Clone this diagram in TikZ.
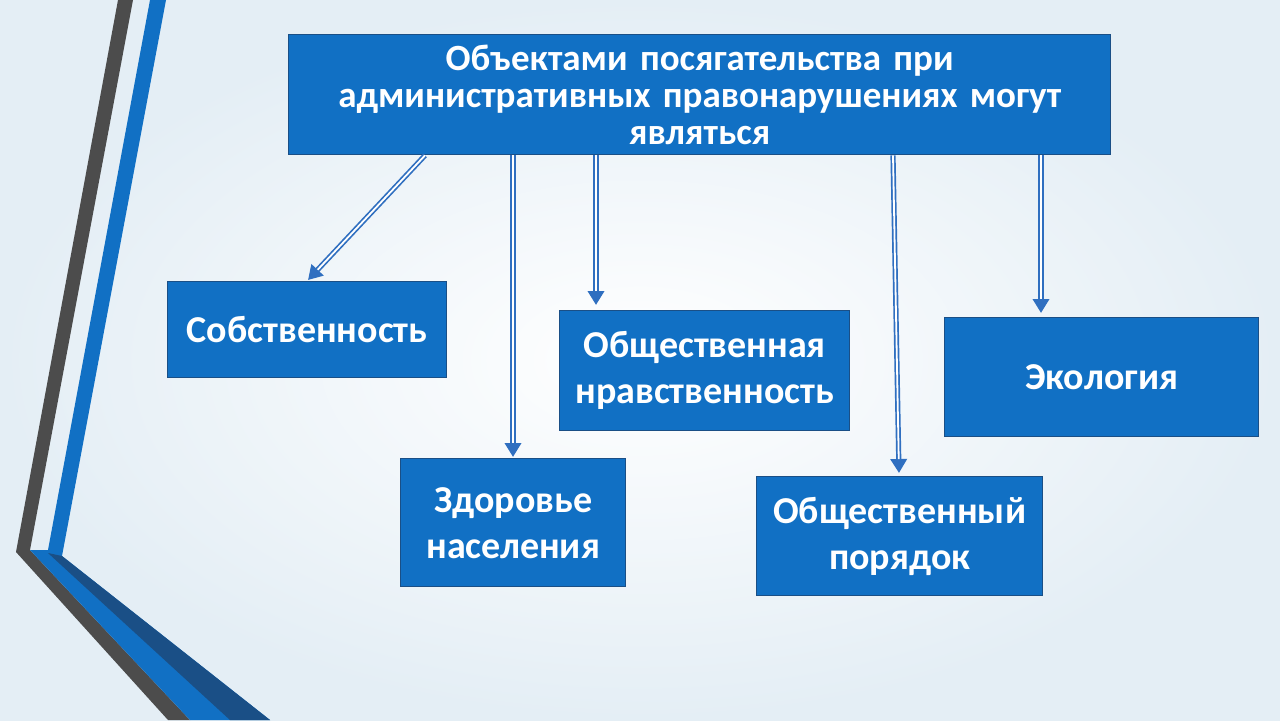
\documentclass[tikz,border=0pt]{standalone}
\usepackage{fontspec}
\setmainfont{Carlito}
\usetikzlibrary{arrows.meta,calc}
\definecolor{boxblue}{HTML}{1170C4}
\definecolor{boxedge}{HTML}{1A4F86}
\definecolor{arrblue}{HTML}{2F6FC0}
\definecolor{bgtop}{HTML}{E4EEF5}
\tikzset{
 box/.style={draw=boxedge,line width=0.7pt,fill=boxblue,text=white,align=center,
   font=\bfseries\fontsize{19}{23}\selectfont,inner sep=0pt,anchor=north west},
 arrouter/.style={draw=arrblue,line width=2.6pt,-{Triangle[length=7pt,width=8pt]}},
 arrinner/.style={draw=white,line width=0.9pt,shorten >=7pt}
}
\begin{document}
\begin{tikzpicture}[x=0.5pt,y=-0.5pt]
\useasboundingbox (0,0) rectangle (1280,720);
\shade[inner color=white,outer color=bgtop] (0,0) rectangle (1280,720);
% stripes
\fill[black!70] (118,0) -- (133,0) -- (30,550) -- (190,720) -- (168,720) -- (16,552) -- cycle;
\fill[boxblue] (150,0) -- (166,0) -- (62,556) -- (270,720) -- (190,720) -- (30,550) -- (48,550) -- cycle;
\fill[boxedge] (48,553) -- (62,556) -- (270,720) -- (230,720) -- cycle;
% boxes
\node[box,minimum width=411pt,minimum height=60pt,text width=405pt,
  font=\bfseries\fontsize{18.5}{18.5}\selectfont] (top) at (288,34)
  {Объектами посягательства при\\административных правонарушениях могут\\являться};
\node[box,minimum width=139.5pt,minimum height=48pt] (sob) at (167,281) {Собственность};
\node[box,minimum width=145pt,minimum height=60pt] (nrav) at (559,310) {Общественная\\нравственность};
\node[box,minimum width=157pt,minimum height=59.5pt] (eco) at (944,317) {Экология};
\node[box,minimum width=112.5pt,minimum height=64pt] (zdr) at (400,458) {Здоровье\\населения};
\node[box,minimum width=143pt,minimum height=59.5pt] (por) at (756,476) {Общественный\\порядок};
% arrow start points on the top box
\coordinate (s1) at ($(top.south west)+(137,0)$);
\coordinate (s2) at ($(top.south west)+(225,0)$);
\coordinate (s3) at ($(top.south west)+(308,0)$);
\coordinate (s4) at ($(top.south west)+(605,0)$);
\coordinate (s5) at ($(top.south west)+(753,0)$);
\coordinate (e1) at ($(sob.north west)+(141,-1)$);
\coordinate (e2) at ($(zdr.north west)+(113,-1)$);
\coordinate (e3) at ($(nrav.north west)+(37,-5)$);
\coordinate (e4) at ($(por.north west)+(143,-3)$);
\coordinate (e5) at ($(eco.north west)+(97,-4)$);
\foreach \i in {1,...,5}{
  \draw[arrouter] (s\i) -- (e\i);
  \draw[arrinner] (s\i) -- (e\i);
}
\end{tikzpicture}
\end{document}
